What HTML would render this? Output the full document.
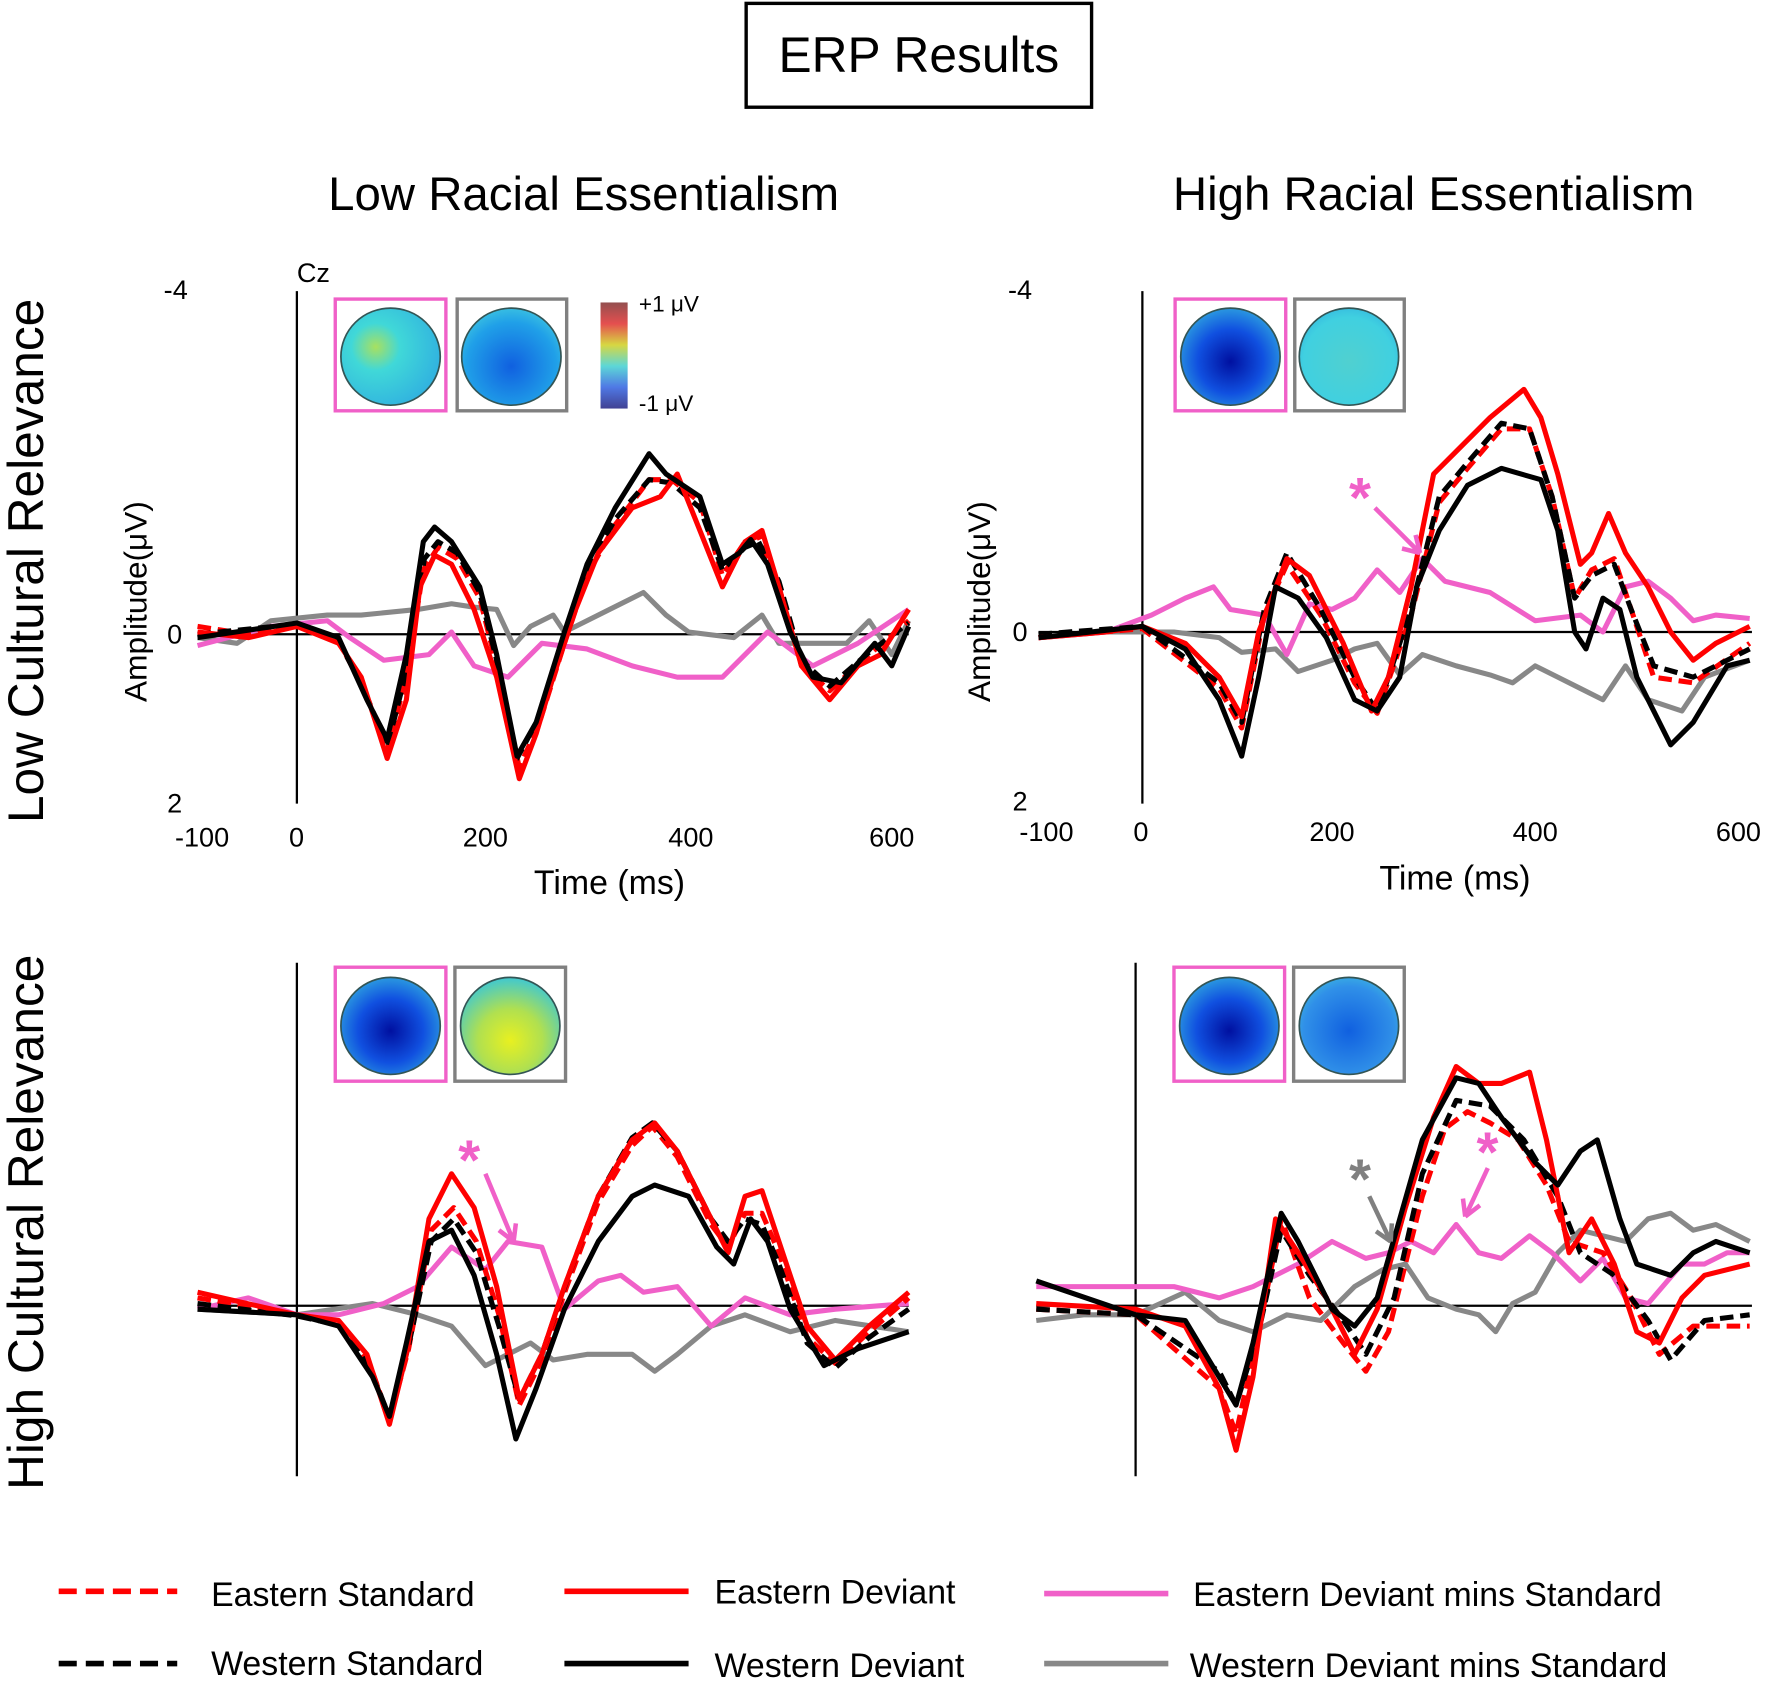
<!DOCTYPE html>
<html><head><meta charset="utf-8"><style>
html,body{margin:0;padding:0;background:#fff;}
svg{display:block;}
text{font-family:"Liberation Sans",sans-serif;}
</style></head><body>
<svg width="1770" height="1685" viewBox="0 0 1568 1493" preserveAspectRatio="none">
<defs>
<radialGradient id="gA" cx="35%" cy="40%" r="70%"><stop offset="0" stop-color="#a8e060"/><stop offset="0.35" stop-color="#40d8d8"/><stop offset="1" stop-color="#30b0e0"/></radialGradient>
<radialGradient id="gB" cx="50%" cy="60%" r="65%"><stop offset="0" stop-color="#1060e0"/><stop offset="0.7" stop-color="#20a0e8"/><stop offset="1" stop-color="#40c8e0"/></radialGradient>
<radialGradient id="gC" cx="50%" cy="55%" r="60%"><stop offset="0" stop-color="#0010a0"/><stop offset="0.55" stop-color="#1050e0"/><stop offset="1" stop-color="#30a8e0"/></radialGradient>
<radialGradient id="gD" cx="50%" cy="55%" r="65%"><stop offset="0" stop-color="#50d0d0"/><stop offset="0.7" stop-color="#40d0e0"/><stop offset="1" stop-color="#30b0e0"/></radialGradient>
<radialGradient id="gE" cx="50%" cy="65%" r="65%"><stop offset="0" stop-color="#e8f020"/><stop offset="0.5" stop-color="#b0e050"/><stop offset="1" stop-color="#40c8d0"/></radialGradient>
<radialGradient id="gF" cx="50%" cy="55%" r="65%"><stop offset="0" stop-color="#1060e0"/><stop offset="0.7" stop-color="#3090e8"/><stop offset="1" stop-color="#40c0e0"/></radialGradient>
<linearGradient id="cb" x1="0" y1="0" x2="0" y2="1"><stop offset="0" stop-color="#803030"/><stop offset="0.2" stop-color="#e03030"/><stop offset="0.4" stop-color="#d0d020"/><stop offset="0.6" stop-color="#40d0d0"/><stop offset="0.8" stop-color="#3060e0"/><stop offset="1" stop-color="#202080"/></linearGradient>
</defs>
<rect x="661" y="3" width="306" height="92" fill="none" stroke="#000" stroke-width="3"/>
<text x="814" y="64" font-size="44" text-anchor="middle">ERP Results</text>
<text x="517" y="186" font-size="42" text-anchor="middle">Low Racial Essentialism</text>
<text x="1270" y="186" font-size="42" text-anchor="middle">High Racial Essentialism</text>
<text transform="translate(38,497) rotate(-90)" font-size="44" text-anchor="middle">Low Cultural Relevance</text>
<text transform="translate(38,1083) rotate(-90)" font-size="44" text-anchor="middle">High Cultural Relevance</text>

<g fill="none" stroke="#000" stroke-width="2">
<line x1="263" y1="258" x2="263" y2="712"/><line x1="175" y1="562" x2="805" y2="562"/>
<line x1="1012" y1="258" x2="1012" y2="712"/><line x1="920" y1="560" x2="1552" y2="560"/>
<line x1="263" y1="853" x2="263" y2="1308"/><line x1="175" y1="1157" x2="805" y2="1157"/>
<line x1="1006" y1="853" x2="1006" y2="1308"/><line x1="918" y1="1157" x2="1552" y2="1157"/>
</g>
<g font-size="24">
<text x="263" y="250" >Cz</text>
<text x="145" y="265">-4</text><text x="148" y="570">0</text><text x="148" y="720">2</text>
<text x="155" y="750">-100</text><text x="256" y="750">0</text><text x="410" y="750">200</text><text x="592" y="750">400</text><text x="770" y="750">600</text>
<text x="473" y="792" font-size="30">Time (ms)</text>
<text x="893" y="265">-4</text><text x="897" y="568">0</text><text x="897" y="718">2</text>
<text x="903" y="745">-100</text><text x="1004" y="745">0</text><text x="1160" y="745">200</text><text x="1340" y="745">400</text><text x="1520" y="745">600</text>
<text x="1222" y="788" font-size="30">Time (ms)</text>
</g>
<text transform="translate(130,533) rotate(-90)" font-size="28" text-anchor="middle">Amplitude(μV)</text>
<text transform="translate(877,533) rotate(-90)" font-size="28" text-anchor="middle">Amplitude(μV)</text>

<g stroke-width="3" fill="none">
<rect x="297" y="265" width="98" height="99" stroke="#f060c8"/><rect x="405" y="265" width="97" height="99" stroke="#808080"/>
<rect x="1041" y="265" width="98" height="99" stroke="#f060c8"/><rect x="1147" y="265" width="97" height="99" stroke="#808080"/>
<rect x="297" y="857" width="98" height="101" stroke="#f060c8"/><rect x="403" y="857" width="98" height="101" stroke="#808080"/>
<rect x="1040" y="857" width="98" height="101" stroke="#f060c8"/><rect x="1146" y="857" width="98" height="101" stroke="#808080"/>
</g>
<g stroke="#355" stroke-width="1.5">
<ellipse cx="346" cy="316" rx="44" ry="43" fill="url(#gA)"/><ellipse cx="453" cy="316" rx="44" ry="43" fill="url(#gB)"/>
<ellipse cx="1090" cy="316" rx="44" ry="43" fill="url(#gC)"/><ellipse cx="1195" cy="316" rx="44" ry="43" fill="url(#gD)"/>
<ellipse cx="346" cy="909" rx="44" ry="43" fill="url(#gC)"/><ellipse cx="452" cy="909" rx="44" ry="43" fill="url(#gE)"/>
<ellipse cx="1089" cy="909" rx="44" ry="43" fill="url(#gC)"/><ellipse cx="1195" cy="909" rx="44" ry="43" fill="url(#gF)"/>
</g>
<rect x="532" y="268" width="24" height="94" fill="url(#cb)" opacity="0.85"/>
<text x="566" y="276" font-size="20">+1 μV</text><text x="566" y="364" font-size="20">-1 μV</text>

<g fill="none" stroke-width="4.5" stroke-linejoin="round">
<polyline stroke="#888" points="175,565 210,570 240,550 290,545 320,545 370,540 400,535 420,538 440,540 455,572 470,555 490,545 500,560 540,540 570,525 590,545 610,560 650,565 675,545 690,570 750,570 770,550 790,580 805,550"/>
<polyline stroke="#f060c8" points="175,572 240,555 290,550 310,565 340,585 380,580 400,560 420,590 450,600 480,570 520,575 560,590 600,600 640,600 680,560 720,590 760,570 805,540"/>
<polyline stroke="#f00" stroke-dasharray="12,6" points="175,555 220,562 263,552 300,568 322,610 343,665 360,600 375,505 388,485 405,495 425,530 440,590 460,680 478,640 500,570 520,510 545,465 575,425 595,425 620,445 640,510 660,480 672,475 690,520 710,590 735,612 770,580 805,550"/>
<polyline stroke="#000" stroke-dasharray="12,6" points="175,562 263,553 300,568 323,612 343,662 360,595 376,495 388,480 405,490 425,525 440,585 458,672 478,635 500,565 520,505 545,460 575,425 595,428 620,450 640,505 660,485 672,480 690,515 710,585 735,608 770,578 805,552"/>
<polyline stroke="#f00" points="175,560 220,565 263,555 300,570 320,600 343,672 360,620 372,520 385,492 400,500 420,540 440,600 460,690 475,650 490,600 510,540 530,490 560,450 585,440 600,420 620,470 640,520 660,480 675,470 690,520 710,590 735,620 760,590 780,580 805,540"/>
<polyline stroke="#000" points="175,565 263,552 300,565 325,620 343,655 360,580 375,480 385,467 400,480 425,520 440,580 458,670 475,640 500,560 520,500 545,450 575,402 590,420 620,440 640,500 655,490 665,478 680,500 700,560 720,600 745,605 775,570 790,590 805,555"/>
<polyline stroke="#888" points="920,565 980,560 1040,560 1080,565 1100,578 1130,575 1150,595 1180,585 1200,575 1220,570 1240,598 1260,580 1290,590 1320,598 1340,605 1360,590 1380,600 1400,610 1420,620 1440,590 1460,620 1490,630 1510,600 1550,585"/>
<polyline stroke="#f060c8" points="920,565 980,560 1020,545 1050,530 1075,520 1090,540 1120,545 1140,580 1160,535 1180,540 1200,530 1220,505 1240,525 1260,495 1280,515 1320,525 1360,550 1400,545 1420,560 1440,520 1460,515 1480,530 1500,550 1520,545 1550,548"/>
<polyline stroke="#f00" stroke-dasharray="12,6" points="920,565 1012,557 1080,610 1100,645 1120,545 1140,500 1170,545 1200,605 1220,632 1250,545 1275,445 1300,415 1330,380 1355,380 1375,440 1395,530 1410,505 1430,495 1445,540 1465,600 1500,605 1550,570"/>
<polyline stroke="#000" stroke-dasharray="12,6" points="920,562 1012,555 1080,605 1100,640 1120,540 1140,490 1170,540 1200,600 1220,630 1250,540 1275,440 1300,410 1330,375 1355,380 1375,440 1395,530 1410,510 1430,500 1445,540 1465,590 1500,600 1550,575"/>
<polyline stroke="#f00" points="920,565 980,560 1012,555 1050,570 1080,600 1100,635 1115,560 1140,495 1160,510 1190,570 1215,630 1230,600 1250,520 1270,420 1290,400 1320,370 1350,345 1365,370 1380,420 1400,500 1410,490 1425,455 1440,490 1460,520 1480,560 1500,585 1520,570 1550,555"/>
<polyline stroke="#000" points="920,565 1012,555 1050,575 1080,620 1100,670 1115,600 1130,520 1150,530 1175,565 1200,620 1220,630 1240,600 1255,520 1275,470 1300,430 1330,415 1365,425 1380,470 1395,560 1405,575 1420,530 1435,540 1450,600 1480,660 1500,640 1530,590 1550,585"/>
<polyline stroke="#888" points="175,1160 263,1165 330,1155 370,1165 400,1175 430,1210 450,1200 470,1190 490,1205 520,1200 560,1200 580,1215 600,1200 630,1175 660,1165 700,1180 740,1170 805,1180"/>
<polyline stroke="#f060c8" points="175,1160 220,1150 263,1165 300,1165 340,1155 370,1140 400,1105 430,1125 450,1100 480,1105 500,1160 530,1135 550,1130 570,1145 600,1140 630,1175 660,1150 700,1165 740,1160 805,1155"/>
<polyline stroke="#f00" stroke-dasharray="12,6" points="175,1150 263,1165 300,1172 328,1210 345,1258 362,1195 382,1090 402,1070 422,1100 442,1165 460,1245 480,1205 502,1140 530,1065 560,1015 578,998 600,1025 630,1085 645,1105 660,1075 675,1075 690,1110 715,1185 740,1208 770,1180 805,1150"/>
<polyline stroke="#000" stroke-dasharray="12,6" points="175,1155 263,1166 300,1174 328,1212 345,1256 362,1192 382,1100 402,1080 422,1110 442,1175 460,1240 480,1200 502,1135 530,1060 560,1008 578,995 600,1020 630,1080 645,1100 660,1080 675,1085 690,1120 715,1190 740,1212 770,1185 805,1160"/>
<polyline stroke="#f00" points="175,1145 263,1165 300,1170 325,1200 345,1262 360,1200 380,1080 400,1040 420,1070 440,1140 460,1240 480,1200 500,1140 530,1060 560,1010 580,995 600,1020 630,1080 645,1110 660,1060 675,1055 690,1100 715,1175 740,1205 770,1175 805,1145"/>
<polyline stroke="#000" points="175,1160 263,1165 300,1175 330,1220 345,1255 360,1190 380,1100 400,1090 420,1130 440,1200 457,1275 475,1230 500,1160 530,1100 560,1060 580,1050 610,1060 635,1105 650,1120 665,1080 680,1100 700,1160 730,1210 760,1195 805,1180"/>
<polyline stroke="#888" points="918,1170 960,1165 1006,1165 1050,1145 1080,1170 1110,1180 1140,1165 1170,1170 1200,1140 1225,1125 1245,1120 1265,1150 1290,1160 1310,1165 1325,1180 1340,1155 1360,1145 1380,1110 1400,1090 1420,1095 1440,1100 1460,1080 1480,1075 1500,1090 1520,1085 1550,1100"/>
<polyline stroke="#f060c8" points="918,1140 960,1140 1006,1140 1040,1140 1080,1150 1110,1140 1150,1120 1180,1100 1210,1115 1230,1110 1250,1100 1270,1110 1290,1085 1310,1110 1330,1115 1355,1095 1375,1110 1400,1135 1420,1115 1440,1150 1460,1155 1490,1120 1510,1120 1530,1110 1550,1110"/>
<polyline stroke="#f00" stroke-dasharray="12,6" points="918,1160 1006,1165 1080,1230 1095,1270 1115,1180 1135,1080 1160,1150 1190,1190 1210,1215 1230,1180 1260,1060 1280,1000 1300,985 1320,995 1345,1010 1370,1050 1390,1100 1420,1110 1445,1150 1470,1200 1500,1175 1550,1175"/>
<polyline stroke="#000" stroke-dasharray="12,6" points="918,1160 1006,1165 1080,1215 1095,1245 1115,1180 1135,1090 1160,1130 1190,1170 1210,1200 1235,1150 1260,1040 1290,975 1320,980 1350,1010 1380,1060 1400,1110 1430,1130 1460,1170 1480,1205 1510,1170 1550,1165"/>
<polyline stroke="#f00" points="918,1155 1006,1160 1050,1175 1080,1230 1095,1285 1110,1220 1130,1080 1150,1110 1175,1150 1200,1200 1220,1160 1245,1070 1270,990 1290,945 1310,960 1330,960 1355,950 1370,1010 1390,1110 1410,1080 1430,1120 1450,1180 1470,1190 1490,1150 1510,1130 1550,1120"/>
<polyline stroke="#000" points="918,1135 1006,1165 1050,1170 1080,1220 1095,1245 1110,1190 1135,1075 1150,1100 1180,1160 1200,1175 1220,1150 1240,1080 1260,1010 1290,955 1310,960 1330,990 1360,1030 1380,1050 1400,1020 1415,1010 1435,1080 1450,1120 1480,1130 1500,1110 1520,1100 1550,1110"/>
</g>

<g stroke-width="4" fill="none">
<path d="M1218,450 L1258,490 M1258,490 l-4,-16 M1258,490 l-16,-4" stroke="#f060c8"/>
<path d="M430,1040 L455,1100 M455,1100 l2,-16 M455,1100 l-13,-10" stroke="#f060c8"/>
<path d="M1213,1060 L1232,1100 M1232,1100 l1,-16 M1232,1100 l-13,-9" stroke="#808080"/>
<path d="M1318,1035 L1298,1078 M1298,1078 l13,-10 M1298,1078 l-2,-16" stroke="#f060c8"/>
</g>
<g font-size="50" font-weight="bold">
<text x="1195" y="458" fill="#f060c8">*</text>
<text x="406" y="1045" fill="#f060c8">*</text>
<text x="1195" y="1062" fill="#808080">*</text>
<text x="1308" y="1038" fill="#f060c8">*</text>
</g>

<g stroke-width="5">
<line x1="52" y1="1410" x2="157" y2="1410" stroke="#f00" stroke-dasharray="16,8"/>
<line x1="52" y1="1474" x2="157" y2="1474" stroke="#000" stroke-dasharray="16,8"/>
<line x1="500" y1="1410" x2="610" y2="1410" stroke="#f00"/>
<line x1="500" y1="1474" x2="610" y2="1474" stroke="#000"/>
<line x1="925" y1="1412" x2="1035" y2="1412" stroke="#f060c8"/>
<line x1="925" y1="1474" x2="1035" y2="1474" stroke="#888"/>
</g>
<g font-size="30">
<text x="187" y="1423">Eastern Standard</text>
<text x="187" y="1484">Western Standard</text>
<text x="633" y="1421">Eastern Deviant</text>
<text x="633" y="1486">Western Deviant</text>
<text x="1057" y="1423">Eastern Deviant mins Standard</text>
<text x="1054" y="1486">Western Deviant mins Standard</text>
</g>
</svg>
</body></html>
